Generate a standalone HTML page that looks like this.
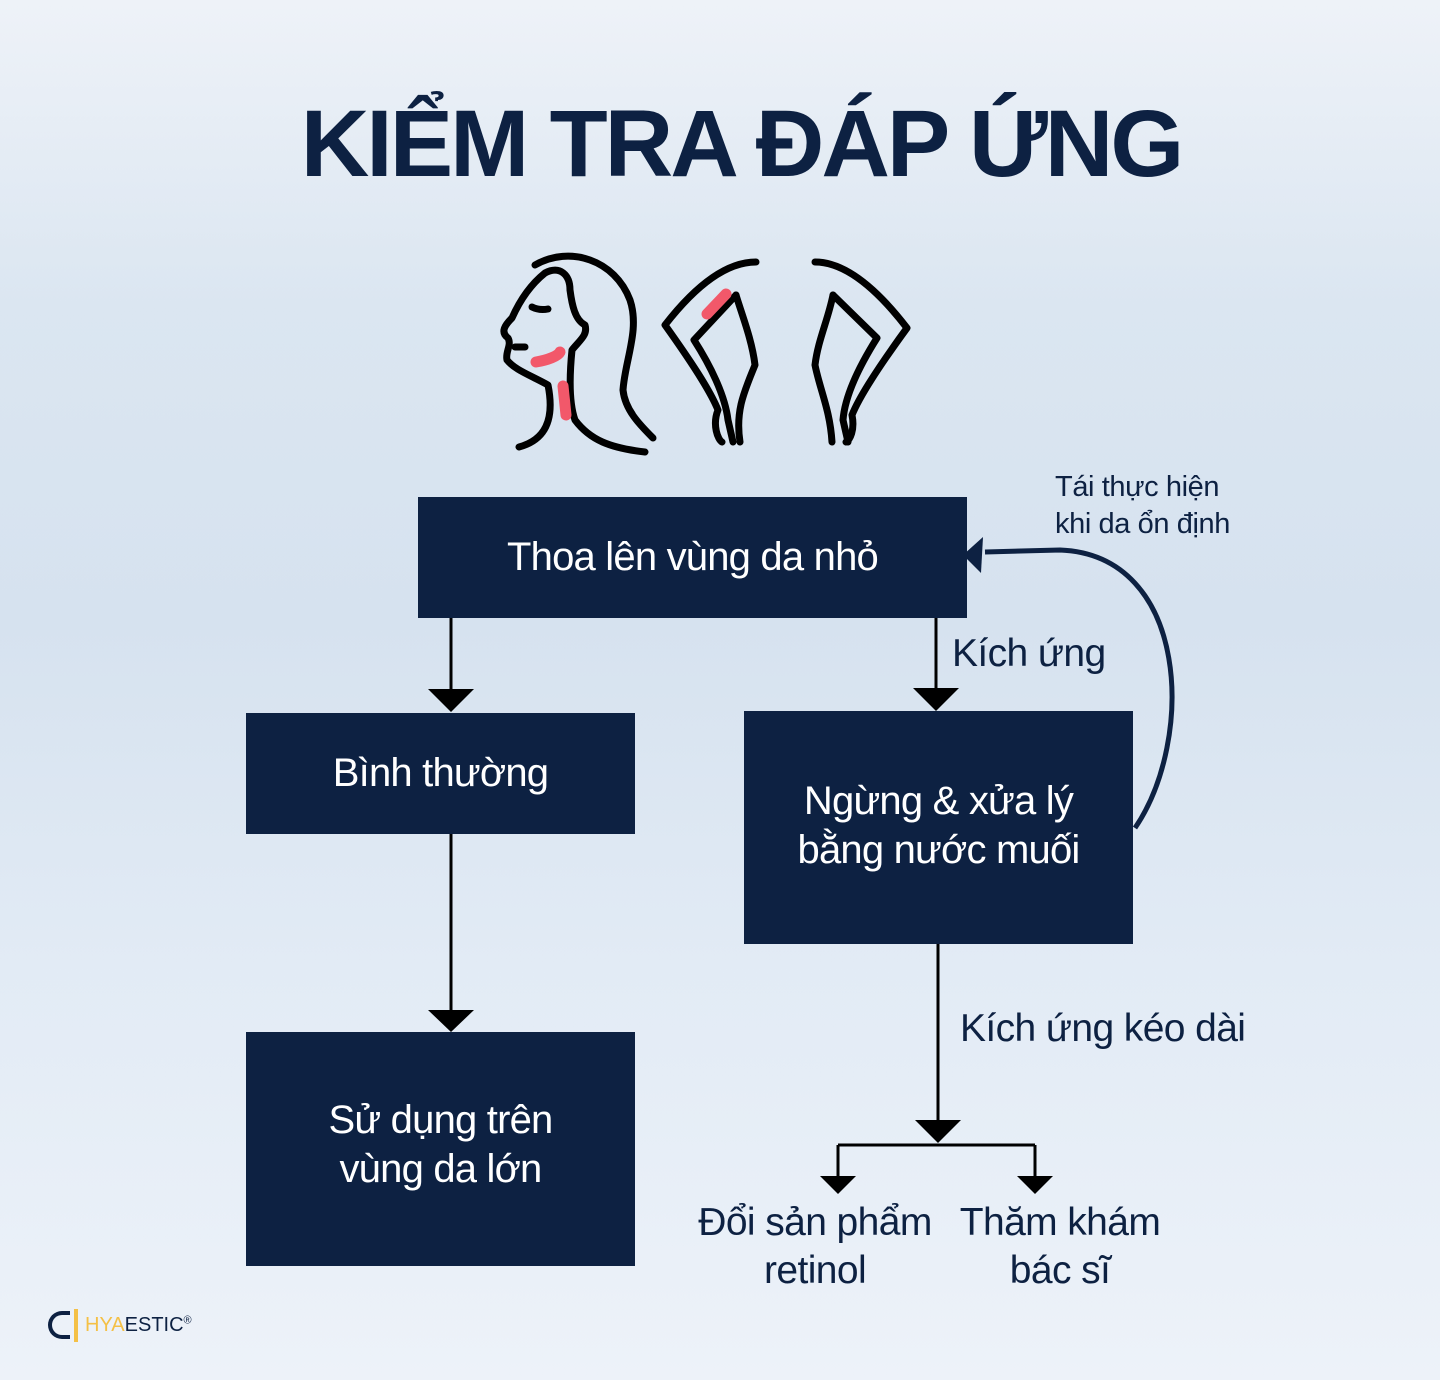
<!DOCTYPE html>
<html><head><meta charset="utf-8"><style>
body{margin:0;width:1440px;height:1380px;overflow:hidden;font-family:"Liberation Sans",sans-serif;
background:linear-gradient(180deg,#eef2f8 0%,#dbe6f1 22%,#d6e2ef 45%,#e2ebf5 70%,#edf2f9 100%);position:relative}
.t{position:absolute;white-space:nowrap}
.box{position:absolute;background:#0d2142;color:#fff;display:flex;align-items:center;justify-content:center;text-align:center;font-size:40px;line-height:49px;letter-spacing:-0.8px}
.lab{position:absolute;color:#0d2142;font-size:39px;letter-spacing:-0.6px;white-space:nowrap}
</style></head><body>
<div class="t" style="left:0;width:1482px;text-align:center;top:90px;font-size:95px;font-weight:bold;color:#0d2142;letter-spacing:-3px">KIỂM TRA ĐÁP ỨNG</div>

<svg width="1440" height="1380" style="position:absolute;left:0;top:0" fill="none">
<g stroke="#000" stroke-width="7" stroke-linecap="round" stroke-linejoin="round">
<path d="M519,447 C545,440 555,420 548,385 C530,375 515,370 507,360 C505,352 512,345 508,338 C500,332 505,325 512,318 C520,300 530,285 545,273 C560,265 570,275 570,290 C572,305 575,320 585,325 C588,335 580,340 572,350 C570,370 568,400 575,420 C590,440 610,448 645,452"/>
<path d="M535,265 C570,245 615,260 630,300 C640,330 625,360 623,390 C625,410 640,425 653,438"/>
<path d="M532,307 C538,310 543,310 548,309"/>
<path d="M515,347 L525,347"/>
<path d="M756,262 C730,262 700,280 665,325 C690,360 710,390 718,410 C712,425 718,440 722,442"/>
<path d="M736,295 L694,340 C710,365 725,395 728,420 L733,442"/>
<path d="M736,295 C742,315 752,340 755,365 C745,390 735,410 740,442"/>
<path d="M815,262 C840,262 870,280 907,328 C880,365 860,395 852,415 C855,430 850,440 846,442"/>
<path d="M833,295 C828,320 818,340 815,365 C820,390 830,410 832,442"/>
<path d="M833,295 L877,338 C860,365 845,395 843,420 L848,442"/>
</g>
<g stroke="#f2586a" stroke-width="11" stroke-linecap="round">
<path d="M536,362 C548,360 558,356 560,352"/>
<path d="M563,386 L566,415"/>
<path d="M707,314 L726,294"/>
</g>
<g stroke="#000" stroke-width="3">
<path d="M451,618 V692 M936,618 V690 M451,834 V1012 M938,944 V1122 M838,1145 H1035 M838,1145 V1178 M1035,1145 V1178"/>
</g>
<g fill="#000">
<path d="M428,689 H474 L451,712Z"/><path d="M913,688 H959 L936,711Z"/>
<path d="M428,1010 H474 L451,1032Z"/><path d="M915,1120 H961 L938,1143Z"/>
<path d="M820,1176 H856 L838,1194Z"/><path d="M1017,1176 H1053 L1035,1194Z"/>
</g>
<path d="M1135,828 C1195,740 1190,555 1060,550 L985,552" stroke="#0d2142" stroke-width="5"/>
<path d="M963,555 L983,537 L981,573Z" fill="#0d2142"/>
</svg>

<div class="box" style="left:418px;top:497px;width:549px;height:121px">Thoa lên vùng da nhỏ</div>
<div class="box" style="left:246px;top:713px;width:389px;height:121px">Bình thường</div>
<div class="box" style="left:744px;top:711px;width:389px;height:233px;padding-bottom:4px;box-sizing:border-box">Ngừng &amp; xửa lý<br>bằng nước muối</div>
<div class="box" style="left:246px;top:1032px;width:389px;height:234px;padding-bottom:8px;box-sizing:border-box">Sử dụng trên<br>vùng da lớn</div>

<div class="lab" style="left:952px;top:632px">Kích ứng</div>
<div class="lab" style="left:1055px;top:469px;font-size:29px;line-height:37px;letter-spacing:-0.4px">Tái thực hiện<br>khi da ổn định</div>
<div class="lab" style="left:960px;top:1007px">Kích ứng kéo dài</div>
<div class="lab" style="left:675px;width:280px;text-align:center;top:1199px;line-height:48px">Đổi sản phẩm<br>retinol</div>
<div class="lab" style="left:930px;width:260px;text-align:center;top:1199px;line-height:48px">Thăm khám<br>bác sĩ</div>

<div style="position:absolute;left:48px;top:1311px;width:22px;height:28px;border:4px solid #0d2142;border-right:none;border-radius:16px 0 0 16px;box-sizing:border-box"></div>
<div style="position:absolute;left:74px;top:1309px;width:4px;height:33px;background:#f4c046"></div>
<div class="t" style="left:85px;top:1314px;font-size:20px;color:#0d2142"><span style="color:#f4c046">HYA</span>ESTIC<sup style="font-size:11px">®</sup></div>
</body></html>
